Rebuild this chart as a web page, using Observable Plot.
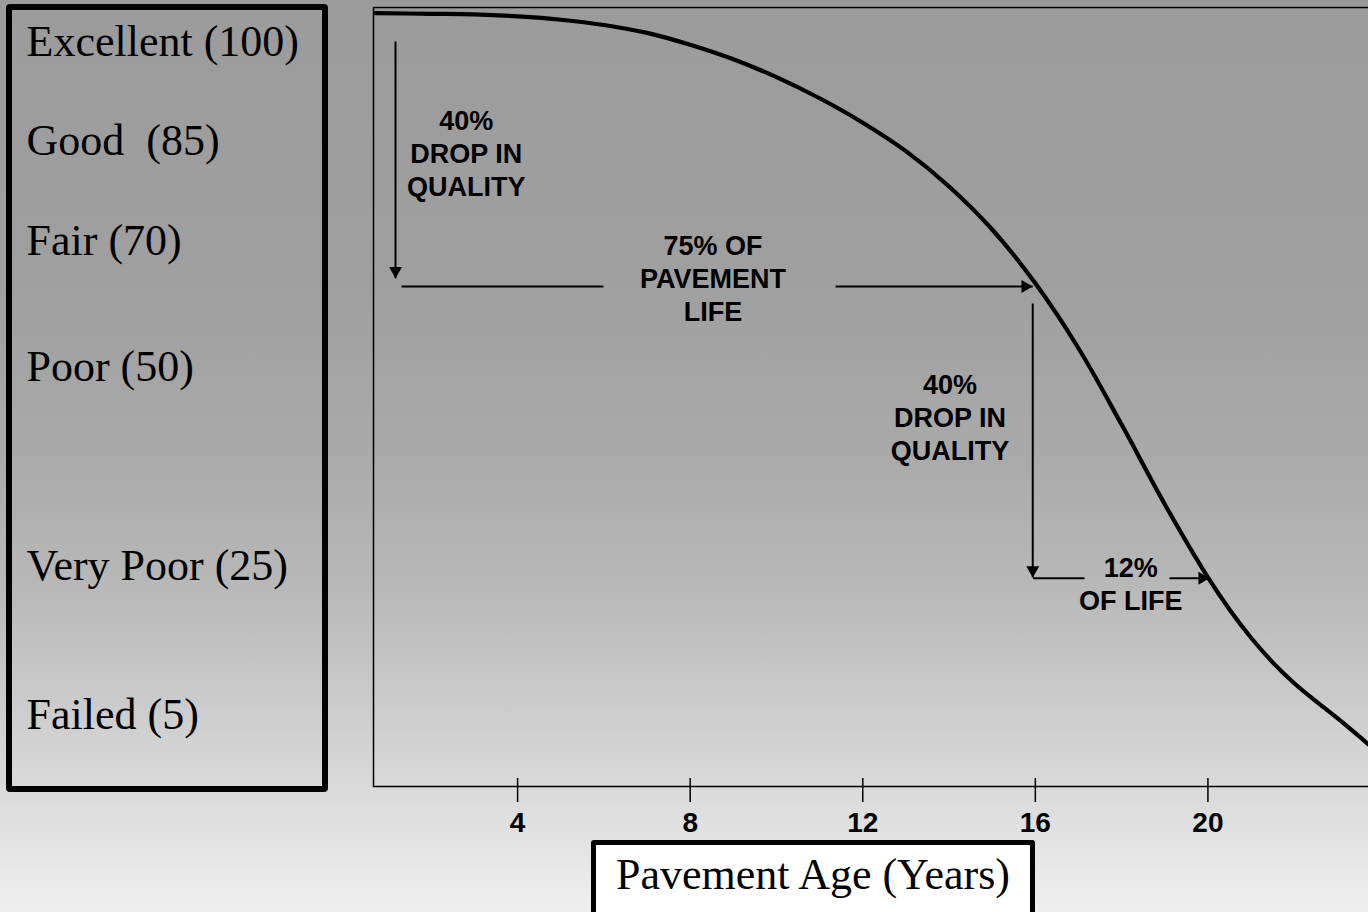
<!DOCTYPE html>
<html>
<head>
<meta charset="utf-8">
<script src="https://cdn.jsdelivr.net/npm/d3@7"></script>
<script src="https://cdn.jsdelivr.net/npm/@observablehq/plot@0.6"></script>
<style>
  html, body { margin: 0; padding: 0; background: #efefef; }
  #stage {
    position: relative; width: 1368px; height: 912px; overflow: hidden;
    background: linear-gradient(to bottom, #9b9b9b 0%, #a0a0a0 33%, #aaaaaa 50%, #b9b9b9 65%, #c8c8c8 75%, #d9d9d9 86%, #efefef 100%);
  }
  #stage svg { position: absolute; left: 0; top: 0; max-width: none !important; }
  #leftbox {
    position: absolute; left: 6px; top: 4px; width: 322px; height: 788px;
    box-sizing: border-box; border: 6px solid #000; border-radius: 4px;
  }
  #xtitle {
    position: absolute; left: 591px; top: 840px; width: 444px; height: 90px;
    box-sizing: border-box; border: 5px solid #000; border-radius: 3px; background: #fff;
    font-family: "Liberation Serif", serif; font-size: 44px; line-height: 48px;
    text-align: center; padding-top: 6px; color: #000; white-space: nowrap;
  }
</style>
</head>
<body>
<div id="stage">
  <div id="leftbox"></div>
  <div id="xtitle">Pavement Age (Years)</div>
</div>
<script>
// Quality categories (left box)
const qualityLabels = ["Excellent (100)", "Good  (85)", "Fair (70)", "Poor (50)", "Very Poor (25)", "Failed (5)"];
const qualityValues = [100, 85, 70, 50, 25, 5];

// X ticks
const xTicks = [4, 8, 12, 16, 20];

// Deterioration curve: pavement age (years) vs condition index
const curveYears = [0.7, 2, 3, 4, 5, 6, 7, 8, 9, 10, 11, 12, 13, 14, 15, 16, 17, 18, 19, 20, 20.5, 21, 21.5, 22, 22.5, 23, 23.72];
const curvePCI   = [104.3, 104.2, 104.1, 103.8, 103.3, 102.5, 101.3, 99.5, 97.3, 94.6, 91.4, 87.7, 83.4, 78.1, 71.65, 63.2, 52.9, 42.7, 32.7, 23.4, 19.1, 15.3, 12.0, 9.2, 6.8, 4.5, 1.0];

// Annotation arrows / segments (years, condition index)
const arrowX1 = [1.17, 1.31, 11.37, 15.94, 15.95, 19.11];
const arrowY1 = [100, 62.7, 62.7, 60.0, 23.3, 23.3];
const arrowX2 = [1.17, 5.99, 15.94, 15.94, 17.14, 20.04];
const arrowY2 = [64.0, 62.7, 62.7, 23.4, 23.3, 23.3];
const arrowHead = ["down", "none", "right", "down", "none", "right"];

// Annotation texts
const noteTexts = ["40%\nDROP IN\nQUALITY", "75% OF\nPAVEMENT\nLIFE", "40%\nDROP IN\nQUALITY", "12%\nOF LIFE"];
const noteX = [2.81, 8.53, 14.02, 18.21];
const noteY = [83.2, 64.1, 43.7, 22.6];

const curve = curveYears.map((x, i) => ({x, y: curvePCI[i]}));
const arrows = arrowX1.map((x1, i) => ({x1, y1: arrowY1[i], x2: arrowX2[i], y2: arrowY2[i], head: arrowHead[i]}));
const notes = noteTexts.map((t, i) => ({t, x: noteX[i], y: noteY[i]}));
const quality = qualityLabels.map((t, i) => ({t, y: qualityValues[i]}));

// The quality labels are unevenly spaced down the chart: the y scale warps the
// condition index so that each category sits at its place in the left box.
const qualitySpacing = d3.scaleLinear().domain(qualityValues).range([34, 133, 233, 359, 558, 707]);

const sans = "'Liberation Sans', Arial, sans-serif";
const serif = "'Liberation Serif', 'Times New Roman', serif";

const chart = Plot.plot({
  width: 1380,
  height: 912,
  marginLeft: 373,
  marginRight: 0,
  marginTop: 7,
  marginBottom: 126,
  style: {background: "transparent", overflow: "visible", fontFamily: sans, color: "#000", maxWidth: "none"},
  x: {domain: [0.66, 24]},
  y: {transform: qualitySpacing, domain: [0, 779], range: [7, 786], axis: null},
  marks: [
    Plot.frame({stroke: "#000", strokeWidth: 1.5}),
    Plot.ruleX(xTicks, {insetTop: 771, stroke: "#000", strokeWidth: 1.5}),
    Plot.axisX({ticks: xTicks, tickSize: 16, tickPadding: 10, tickFormat: d => String(d),
      fontSize: 28, fontWeight: "bold", fontFamily: sans, label: null, stroke: "#000", strokeWidth: 1.5}),
    Plot.line(curve, {x: "x", y: "y", stroke: "#000", strokeWidth: 4.2, curve: "catmull-rom"}),
    Plot.link(arrows, {x1: "x1", y1: "y1", x2: "x2", y2: "y2", stroke: "#000", strokeWidth: 2}),
    Plot.dot(arrows.filter(d => d.head === "down"), {x: "x2", y: "y2", symbol: "triangle", r: 4.8, fill: "#000", stroke: null, rotate: 180, dy: -7.5}),
    Plot.dot(arrows.filter(d => d.head === "right"), {x: "x2", y: "y2", symbol: "triangle", r: 4.8, fill: "#000", stroke: null, rotate: 90, dx: -7.5}),
    Plot.text(notes, {x: "x", y: "y", text: "t", fontSize: 27, fontWeight: "bold", fontFamily: sans, lineHeight: 1.22, fill: "#000", textAnchor: "middle"}),
    Plot.text(quality, {y: "y", text: "t", frameAnchor: "left", dx: -347, textAnchor: "start", fontSize: 44, fontFamily: serif, fill: "#000"})
  ]
});

document.getElementById("stage").appendChild(chart);
</script>
</body>
</html>
